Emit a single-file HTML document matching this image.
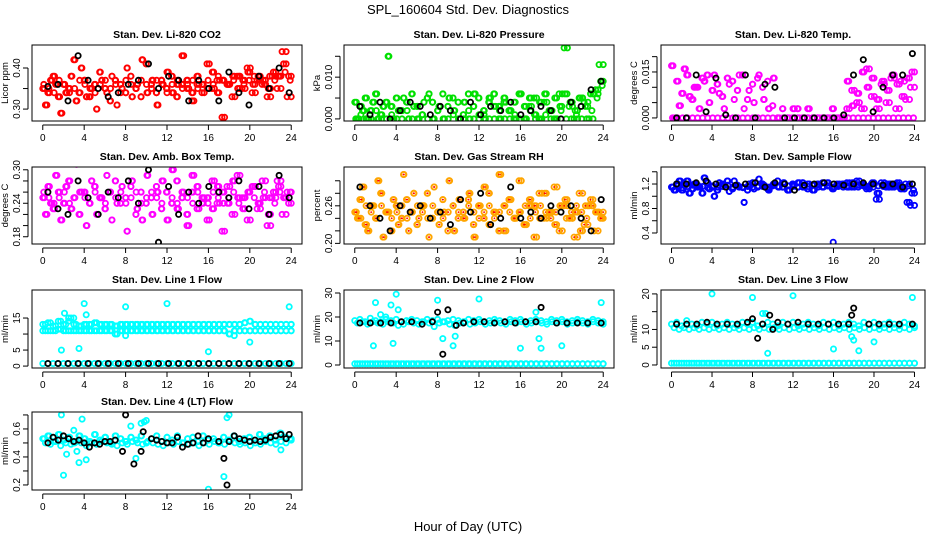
<!DOCTYPE html>
<html><head><meta charset="utf-8"><style>
body{margin:0;background:#fff}
svg{display:block;font-family:"Liberation Sans",Arial,sans-serif}
</style></head><body>
<svg id="chart" width="936" height="540" viewBox="0 0 936 540" xmlns="http://www.w3.org/2000/svg">
<rect width="936" height="540" fill="#fff"/>
<text x="468" y="14" text-anchor="middle" font-size="13">SPL_160604  Std. Dev. Diagnostics</text>
<text x="468" y="531" text-anchor="middle" font-size="13">Hour of Day (UTC)</text>
<g id="plots"></g>
</svg>
<script>
// ---- data ----
const xTicks=[0,4,8,12,16,20,24];
const co2A=[0.35,0.34,0.38,0.33,0.36,0.35,0.42,0.34,0.37,0.33,0.36,0.39,0.35,0.32,0.37,0.36,0.34,0.38,0.35,0.33,0.41,0.36,0.34,0.37,0.35,0.38,0.33,0.36,0.37,0.34,0.38,0.36,0.35,0.39,0.34,0.37,0.36,0.38,0.35,0.37,0.39,0.36,0.38,0.37,0.35,0.39,0.38,0.41,0.38];
const co2B=[0.31,0.37,0.36,0.29,0.34,0.38,0.32,0.40,0.33,0.35,0.30,0.37,0.34,0.38,0.31,0.35,0.40,0.33,0.36,0.42,0.34,0.37,0.31,0.36,0.39,0.34,0.36,0.43,0.35,0.32,0.36,0.34,0.41,0.35,0.37,0.28,0.36,0.33,0.38,0.35,0.40,0.34,0.37,0.36,0.33,0.38,0.35,0.44,0.33];
const co2C=[0.36,0.35,0.34,0.37,0.36,0.34,0.35,0.37,0.36,0.35,0.34,0.36,0.37,0.35,0.36,0.34,0.37,0.36,0.35,0.37,0.36,0.35,0.37,0.36,0.34,0.36,0.37,0.35,0.36,0.37,0.35,0.36,0.37,0.36,0.38,0.37,0.36,0.37,0.38,0.36,0.37,0.38,0.37,0.36,0.38,0.37,0.38,0.39,0.37];
const co2K=[0.355,0.36,0.32,0.43,0.37,0.35,0.33,0.34,0.36,0.37,0.41,0.35,0.38,0.37,0.32,0.37,0.35,0.32,0.39,0.34,0.31,0.38,0.35,0.40,0.34];
const prA=[0.004,0.003,0.005,0.002,0.006,0.001,0.004,0.003,0.005,0.002,0.004,0.006,0.003,0.001,0.005,0.004,0.002,0.006,0.003,0.005,0.004,0.001,0.006,0.003,0.005,0.002,0.004,0.006,0.003,0.005,0.002,0.004,0.006,0.003,0.005,0.001,0.004,0.006,0.002,0.005,0.003,0.006,0.004,0.002,0.005,0.003,0.006,0.007,0.009];
const prB=[0.000,0.002,0.000,0.004,0.000,0.003,0.015,0.000,0.002,0.005,0.000,0.003,0.000,0.004,0.006,0.000,0.003,0.000,0.005,0.002,0.000,0.004,0.000,0.006,0.001,0.000,0.005,0.003,0.000,0.004,0.002,0.000,0.006,0.000,0.003,0.005,0.000,0.004,0.002,0.000,0.006,0.017,0.003,0.000,0.005,0.004,0.000,0.006,0.013];
const prC=[0,0.001,0,0,0.002,0,0,0.001,0,0,0.002,0,0,0.001,0,0,0.002,0,0,0.001,0,0,0.002,0,0,0.001,0,0,0.002,0,0,0.001,0,0,0.002,0,0,0.001,0,0,0.002,0,0,0.001,0,0,0.002,0.005,0.008];
const prK=[0.003,0.001,0.004,0.000,0.002,0.004,0.003,0.001,0.003,0.002,0.000,0.004,0.001,0.003,0.002,0.004,0.001,0.002,0.003,0.002,0.000,0.004,0.003,0.007,0.009];
const tmA=[0.017,0.012,0.008,0.014,0.006,0.010,0.013,0.014,0.009,0.011,0.007,0.013,0.012,0.009,0.014,0.006,0.011,0.013,0.010,0.012,0.004,0,0.003,0,0,0.003,0,0,0,0,0,0,0.003,0,0,0.012,0.004,0.008,0.015,0.010,0.013,0.006,0.012,0.009,0.014,0.011,0.007,0.013,0.015];
const tmB=[0,0.004,0.016,0.007,0.010,0.003,0.012,0.005,0.014,0.008,0.003,0.011,0.006,0.014,0.003,0.009,0.005,0.014,0.006,0.003,0.013,0,0,0,0.003,0,0,0.003,0,0,0,0,0,0,0,0.003,0.009,0.005,0.003,0.016,0.007,0.003,0.011,0.005,0.013,0.003,0.012,0.006,0.010];
const tmC=[0,0,0,0,0,0,0,0,0,0,0,0,0,0,0,0,0,0,0,0,0,0,0,0,0,0,0,0,0,0,0,0,0,0,0,0,0,0,0,0,0,0,0,0,0,0,0,0,0];
const tmK=[0,0,0.014,0.002,0.013,0.001,0,0.014,0,0.011,0.010,0,0,0,0,0,0,0.001,0.014,0.019,0.002,0.010,0.014,0.014,0.021];
const abA=[0.25,0.27,0.23,0.26,0.24,0.28,0.25,0.22,0.26,0.24,0.27,0.25,0.23,0.26,0.28,0.24,0.25,0.27,0.22,0.26,0.24,0.25,0.27,0.23,0.26,0.24,0.28,0.25,0.22,0.26,0.27,0.24,0.25,0.23,0.27,0.26,0.24,0.28,0.25,0.23,0.26,0.27,0.24,0.25,0.22,0.26,0.27,0.25,0.24];
const abB=[0.22,0.24,0.29,0.21,0.27,0.23,0.31,0.26,0.20,0.28,0.22,0.25,0.29,0.21,0.24,0.27,0.19,0.28,0.23,0.21,0.29,0.22,0.26,0.28,0.21,0.30,0.23,0.26,0.20,0.29,0.23,0.25,0.21,0.28,0.24,0.19,0.27,0.22,0.29,0.25,0.21,0.27,0.23,0.28,0.20,0.25,0.28,0.22,0.26];
const abC=[0.26,0.25,0.24,0.25,0.26,0.24,0.25,0.26,0.25,0.24,0.26,0.25,0.24,0.26,0.25,0.26,0.24,0.25,0.26,0.24,0.25,0.26,0.25,0.24,0.26,0.25,0.24,0.26,0.25,0.24,0.26,0.25,0.24,0.26,0.25,0.24,0.25,0.26,0.24,0.25,0.26,0.25,0.24,0.26,0.25,0.24,0.26,0.25,0.26];
const abK=[0.26,0.23,0.22,0.28,0.25,0.22,0.26,0.25,0.28,0.24,0.30,0.17,0.27,0.22,0.26,0.24,0.27,0.26,0.25,0.28,0.23,0.27,0.22,0.29,0.25];
const rhA=[0.25,0.27,0.23,0.26,0.24,0.28,0.25,0.22,0.26,0.24,0.27,0.25,0.23,0.26,0.28,0.24,0.25,0.27,0.22,0.26,0.24,0.25,0.27,0.23,0.26,0.24,0.28,0.25,0.22,0.26,0.27,0.24,0.25,0.23,0.27,0.26,0.24,0.28,0.25,0.23,0.26,0.27,0.24,0.25,0.22,0.26,0.27,0.25,0.24];
const rhB=[0.24,0.29,0.22,0.26,0.30,0.21,0.25,0.27,0.23,0.31,0.22,0.28,0.24,0.26,0.21,0.29,0.23,0.25,0.30,0.22,0.27,0.24,0.28,0.21,0.26,0.29,0.23,0.25,0.31,0.22,0.27,0.24,0.30,0.23,0.26,0.21,0.28,0.24,0.25,0.29,0.22,0.26,0.24,0.21,0.28,0.23,0.26,0.22,0.25];
const rhC=[0.25,0.24,0.26,0.25,0.24,0.26,0.25,0.24,0.25,0.26,0.24,0.25,0.26,0.25,0.24,0.26,0.25,0.24,0.25,0.26,0.25,0.24,0.26,0.25,0.24,0.25,0.26,0.24,0.25,0.26,0.25,0.24,0.25,0.26,0.24,0.25,0.26,0.25,0.24,0.25,0.26,0.24,0.25,0.26,0.25,0.24,0.26,0.25,0.24];
const rhK=[0.29,0.26,0.24,0.22,0.26,0.25,0.26,0.24,0.25,0.23,0.27,0.25,0.28,0.23,0.24,0.29,0.24,0.25,0.24,0.26,0.25,0.26,0.24,0.22,0.27];
const sfA=[1.15,1.20,1.10,1.25,1.12,1.18,1.05,1.22,1.15,1.10,1.20,1.25,1.12,1.18,1.15,1.10,1.22,1.15,1.20,1.12,1.18,1.25,1.15,1.10,1.20,1.15,1.22,1.12,1.18,1.20,1.15,1.22,1.12,1.18,1.20,1.15,1.22,1.18,1.20,1.15,1.22,1.05,1.18,1.20,1.15,1.22,1.12,0.90,1.05];
const sfB=[1.10,1.25,1.18,1.05,1.20,1.15,1.30,1.12,1.00,1.22,1.18,1.08,1.25,1.15,0.90,1.20,1.12,1.28,1.18,1.10,1.20,1.15,1.22,1.10,1.18,1.22,1.15,1.20,1.10,1.18,1.22,1.17,1.15,1.20,1.18,1.22,1.15,1.25,1.18,1.12,1.20,0.95,1.22,1.15,1.20,1.18,1.12,1.20,0.85];
const sfC=[1.15,1.17,1.14,1.16,1.18,1.15,1.16,1.14,1.17,1.15,1.16,1.18,1.15,1.17,1.14,1.16,1.15,1.17,1.16,1.15,1.17,1.16,1.15,1.17,1.16,1.15,1.17,1.16,1.18,1.15,1.16,1.17,0.25,1.16,1.15,1.17,1.16,1.15,1.17,1.16,1.15,1.17,1.16,1.15,1.17,1.16,1.15,1.17,1.10];
const sfK=[1.20,1.20,1.22,1.25,1.20,1.15,1.18,1.20,1.22,1.15,1.22,1.20,1.10,1.18,1.20,1.22,1.20,1.18,1.20,1.22,1.20,1.18,1.20,1.15,1.20];
const l1A=[13,13.5,12.5,14,13,15,13,12.5,13,13,13.5,13,13,13,12.5,13,13,13,13,13,13,13,13,13,13,13,13,13,13,13,13,13,13,13,13,13,13,13,13,13.5,14,13,13,13,13,13,13,13,13];
const l1B=[11,11,11,11.5,11,11,11,11,11,11,11,11,11,11,10,11,11,11,11,11,11,11,11,11,11,11,11,11,11,11,11,11,11,11,11,11,10,11,11,11,11,11,11,11,11,11,11,11,11];
const l1C=[0.8,0.8,0.8,0.8,0.8,0.8,0.8,0.8,0.8,0.8,0.8,0.8,0.8,0.8,0.8,0.8,0.8,0.8,0.8,0.8,0.8,0.8,0.8,0.8,0.8,0.8,0.8,0.8,0.8,0.8,0.8,0.8,0.8,0.8,0.8,0.8,0.8,0.8,0.8,0.8,0.8,0.8,0.8,0.8,0.8,0.8,0.8,0.8,0.8];
const l1OutX=[1.8,2.1,2.5,3.0,3.5,4.0,4.2,8.0,12.0,16.0,20.0,23.8,8.0,18.5];
const l1OutY=[5,16.5,14,15,5.5,19.5,16,18.5,19.5,4.5,7.5,18.5,9.5,9.5];
const l1K=[0.8,0.8,0.8,0.8,0.8,0.8,0.8,0.8,0.8,0.8,0.8,0.8,0.8,0.8,0.8,0.8,0.8,0.8,0.8,0.8,0.8,0.8,0.8,0.8,0.8];
const l2A=[18.5,19,18,19.5,18.5,18,19,18.5,19,18,18.5,19,18.5,18,19,18.5,19,18,18.5,19,18.5,18,19,18.5,19,18,18.5,19,18.5,18,19,18.5,19,18,18.5,19,18.5,18,19,18.5,19,18,18.5,19,18.5,18,19,18.5,18];
const l2B=[17.5,18,17,18,17.5,17,18,17.5,16.5,17,18,17.5,17,18,17.5,16,17.5,18,17,16.5,17.5,18,17,17.5,18,17,17.5,18,17.5,17,18,17.5,18,17,17.5,18,17.5,17,18,17.5,18,17,17.5,18,17.5,17,18,17.5,17];
const l2C=[0.5,0.5,0.5,0.5,0.5,0.5,0.5,0.5,0.5,0.5,0.5,0.5,0.5,0.5,0.5,0.5,0.5,0.5,0.5,0.5,0.5,0.5,0.5,0.5,0.5,0.5,0.5,0.5,0.5,0.5,0.5,0.5,0.5,0.5,0.5,0.5,0.5,0.5,0.5,0.5,0.5,0.5,0.5,0.5,0.5,0.5,0.5,0.5,0.5];
const l2OutX=[1.8,2.0,2.5,3.0,3.5,3.7,4.0,4.2,8.0,8.5,9.5,9.7,12.0,16.0,17.5,17.8,18.0,20.0,23.8];
const l2OutY=[8,26,21,20,25,9,29.5,23,27,11,8,12,27.5,7,22,11,7,8,26];
const l2KX=[0.5,1.5,2.5,3.5,4.5,5.5,6.5,7.5,8.0,8.5,9.0,9.8,10.5,11.5,12.5,13.5,14.5,15.5,16.5,17.5,18.0,19.5,20.5,21.5,22.5,23.8];
const l2KY=[17.5,17.5,17.5,17.5,18,18,17,18,22,4.5,23,16.5,17.5,18,18,17.5,18,17.5,18,18,24,17.5,17.5,17.5,17.5,17.5];
const l3A=[11.5,12,11,12.5,11.5,11,12,11.5,12,11,11.5,12,11.5,11,12,11.5,12,11,11.5,12,11.5,11,12,11.5,12,11,11.5,12,11.5,11,12,11.5,12,11,11.5,12,11.5,11,12,11.5,12,11,11.5,12,11.5,11,12,11.5,11];
const l3B=[10.5,10,10.5,10,10.5,10,10.5,10,10.5,10,10.5,10,10.5,10,10.5,10,10.5,10,10.5,10,10.5,10,10.5,10,10.5,10,10.5,10,10.5,10,10.5,10,10.5,10,10.5,10,10.5,10,10.5,10,10.5,10,10.5,10,10.5,10,10.5,10,10.5];
const l3C=[0.5,0.5,0.5,0.5,0.5,0.5,0.5,0.5,0.5,0.5,0.5,0.5,0.5,0.5,0.5,0.5,0.5,0.5,0.5,0.5,0.5,0.5,0.5,0.5,0.5,0.5,0.5,0.5,0.5,0.5,0.5,0.5,0.5,0.5,0.5,0.5,0.5,0.5,0.5,0.5,0.5,0.5,0.5,0.5,0.5,0.5,0.5,0.5,0.5];
const l3OutX=[4.0,8.0,9.0,9.3,9.5,12.0,16.0,17.8,18.0,18.5,20.0,23.8];
const l3OutY=[20,19,14.5,14.5,3.3,19.5,4.5,8,7,4,6.5,19];
const l3KX=[0.5,1.5,2.5,3.5,4.5,5.5,6.5,7.5,8.0,8.5,9.0,9.7,10.0,10.5,11.5,12.5,13.5,14.5,15.5,16.5,17.5,17.8,18.0,19.5,20.5,21.5,22.5,23.8];
const l3KY=[11.5,11.5,11.5,12,11.5,11.5,11.5,12,13,7.5,11.5,14,10,12,11.5,12,11.5,11.5,11.5,11.5,11.5,14,16,11.5,11.5,11.5,11.5,11.5];
const l4A=[0.53,0.55,0.51,0.56,0.52,0.54,0.50,0.55,0.53,0.51,0.56,0.52,0.54,0.50,0.55,0.53,0.51,0.54,0.52,0.55,0.50,0.53,0.55,0.51,0.54,0.52,0.55,0.50,0.53,0.54,0.51,0.55,0.52,0.53,0.50,0.54,0.52,0.55,0.51,0.53,0.54,0.52,0.56,0.53,0.55,0.52,0.57,0.54,0.53];
const l4B=[0.50,0.49,0.51,0.48,0.50,0.49,0.51,0.50,0.48,0.50,0.49,0.51,0.50,0.49,0.48,0.50,0.49,0.51,0.50,0.49,0.51,0.50,0.49,0.48,0.50,0.49,0.51,0.50,0.49,0.50,0.48,0.50,0.49,0.51,0.50,0.49,0.51,0.50,0.49,0.50,0.48,0.50,0.49,0.51,0.50,0.49,0.51,0.50,0.52];
const l4OutX=[1.8,2.0,2.3,3.0,3.3,3.5,3.8,4.0,4.2,8.5,9.0,9.5,9.8,10.0,16.0,17.5,17.8,18.0,23.0];
const l4OutY=[0.70,0.27,0.42,0.59,0.44,0.36,0.67,0.74,0.38,0.62,0.39,0.64,0.65,0.66,0.17,0.26,0.68,0.70,0.45];
const l4KX=[0.5,1.0,1.5,2.0,2.5,3.0,3.5,4.0,4.5,5.0,5.5,6.0,6.5,7.0,7.7,8.0,8.8,9.5,9.7,10.5,11.0,11.5,12.0,12.5,13.0,13.5,14.0,14.5,15.0,15.5,16.0,17.0,17.5,17.8,18.0,18.5,19.0,19.5,20.0,20.5,21.0,21.5,22.0,22.5,23.0,23.5,23.8];
const l4KY=[0.50,0.54,0.52,0.55,0.53,0.51,0.52,0.50,0.47,0.50,0.49,0.51,0.51,0.52,0.44,0.70,0.35,0.44,0.58,0.53,0.52,0.51,0.50,0.50,0.54,0.47,0.49,0.50,0.55,0.50,0.53,0.51,0.39,0.20,0.51,0.55,0.53,0.52,0.51,0.52,0.51,0.52,0.54,0.55,0.56,0.53,0.56];

// ---- layout ----
const NS="http://www.w3.org/2000/svg";
const root=document.getElementById('plots');
const colX=[[32,302],[344,614],[661,925]];
const rowY=[[45,121],[167,244],[290,368],[412,490]];
function el(t,a,p){const e=document.createElementNS(NS,t);for(const k in a)e.setAttribute(k,a[k]);(p||root).appendChild(e);return e;}
function grid(arr,x0,x1){return arr.map((v,i)=>[x0+(x1-x0)*i/(arr.length-1),v]);}
function pairs(xs,ys){return xs.map((x,i)=>[x,ys[i]]);}
const C={red:'#ff0000',green:'#00e000',mag:'#ff00ff',orange:'#ffa500',blue:'#0000ff',cyan:'#00ffff',blk:'#000'};
function cloud(A,B,Cc,K,col){
  return [[grid(A,0,24),col],[grid(B,0.25,24),col],[grid(Cc,0.1,23.9),col],
          [grid(B,0.4,23.6),col],[grid(A,0.15,23.75),col],[grid(K,0.5,23.8),C.blk]];
}
const panels=[
 {name:'li820-co2',title:'Stan. Dev. Li-820 CO2',yl:'Licor ppm',c:0,r:0,ymin:0.271,ymax:0.456,yt:[0.30,0.35,0.40],ylab:['0.30','','0.40'],
  s:cloud(co2A,co2B,co2C,co2K,C.red)},
 {name:'li820-pressure',title:'Stan. Dev. Li-820 Pressure',yl:'kPa',c:1,r:0,ymin:-0.0005,ymax:0.0177,yt:[0,0.005,0.010,0.015],ylab:['0.000','','0.010',''],
  s:cloud(prA,prB,prC,prK,C.green)},
 {name:'li820-temp',title:'Stan. Dev. Li-820 Temp.',yl:'degrees C',c:2,r:0,ymin:-0.001,ymax:0.0238,yt:[0,0.005,0.010,0.015,0.020],ylab:['0.000','','','0.015',''],
  s:cloud(tmA,tmB,tmC,tmK,C.mag)},
 {name:'amb-box-temp',title:'Stan. Dev. Amb. Box Temp.',yl:'degrees C',c:0,r:1,ymin:0.167,ymax:0.305,yt:[0.18,0.20,0.22,0.24,0.26,0.28,0.30],ylab:['0.18','','','0.24','','','0.30'],
  s:cloud(abA,abB,abC,abK,C.mag)},
 {name:'gas-stream-rh',title:'Stan. Dev. Gas Stream RH',yl:'percent',c:1,r:1,ymin:0.199,ymax:0.322,yt:[0.20,0.22,0.24,0.26,0.28,0.30],ylab:['0.20','','','0.26','',''],
  s:cloud(rhA,rhB,rhC,rhK,C.orange),dot:'#ff0000'},
 {name:'sample-flow',title:'Stan. Dev. Sample Flow',yl:'ml/min',c:2,r:1,ymin:0.22,ymax:1.478,yt:[0.4,0.6,0.8,1.0,1.2,1.4],ylab:['0.4','','0.8','','1.2',''],
  s:cloud(sfA,sfB,sfC,sfK,C.blue)},
 {name:'line1-flow',title:'Stan. Dev. Line 1 Flow',yl:'ml/min',c:0,r:2,ymin:-0.6,ymax:23.75,yt:[0,5,10,15],ylab:['0','5','','15'],
  s:[[grid(l1A,0,24),C.cyan],[grid(l1A,0.25,24),C.cyan],[grid(l1B,0,24),C.cyan],[grid(l1B,0.25,24),C.cyan],[grid(l1C,0,24),C.cyan],[pairs(l1OutX,l1OutY),C.cyan],[grid(l1K,0.5,23.8),C.blk]]},
 {name:'line2-flow',title:'Stan. Dev. Line 2 Flow',yl:'ml/min',c:1,r:2,ymin:-1.25,ymax:31.25,yt:[0,10,20,30],ylab:['0','10','20','30'],
  s:[[grid(l2A,0,24),C.cyan],[grid(l2B,0.25,24),C.cyan],[grid(l2C,0,24),C.cyan],[grid(l2C,0.25,24),C.cyan],[pairs(l2OutX,l2OutY),C.cyan],[pairs(l2KX,l2KY),C.blk]]},
 {name:'line3-flow',title:'Stan. Dev. Line 3 Flow',yl:'ml/min',c:2,r:2,ymin:-0.85,ymax:21.1,yt:[0,5,10,15,20],ylab:['0','5','10','','20'],
  s:[[grid(l3A,0,24),C.cyan],[grid(l3B,0.25,24),C.cyan],[grid(l3C,0,24),C.cyan],[grid(l3C,0.25,24),C.cyan],[pairs(l3OutX,l3OutY),C.cyan],[pairs(l3KX,l3KY),C.blk]]},
 {name:'line4-flow',title:'Stan. Dev. Line 4 (LT) Flow',yl:'ml/min',c:0,r:3,ymin:0.164,ymax:0.721,yt:[0.2,0.3,0.4,0.5,0.6,0.7],ylab:['0.2','','0.4','','0.6',''],
  s:[[grid(l4A,0,24),C.cyan],[grid(l4B,0.25,24),C.cyan],[grid(l4A,0.12,23.9),C.cyan],[pairs(l4OutX,l4OutY),C.cyan],[pairs(l4KX,l4KY),C.blk]]}
];
panels.forEach(p=>{
  const [L,R]=colX[p.c],[T,B]=rowY[p.r];
  const sx=v=>L+(v+1.04)/(26.08)*(R-L);
  const sy=v=>B-(v-p.ymin)/(p.ymax-p.ymin)*(B-T);
  const g=el('g',{});
  
  
  const t=el('text',{x:(L+R)/2,y:T-7,'text-anchor':'middle','font-size':'10.5','font-weight':'bold'},g);
  t.textContent=p.title;
  
  
  const cp='cp'+p.name;
  const cl=el('clipPath',{id:cp},g);el('rect',{x:L,y:T,width:R-L,height:B-T},cl);
  const pts=el('g',{'clip-path':'url(#'+cp+')'},g);
  
  
  p.s.forEach(([arr,col])=>{
    arr.forEach(([x,y])=>{
      const c=el('circle',{cx:sx(x).toFixed(1),cy:sy(y).toFixed(1),r:2.6,fill:'none',stroke:col,'stroke-width':1.8},pts);
      
      
      if(p.dot&&col!==C.blk)el('circle',{cx:sx(x).toFixed(1),cy:sy(y).toFixed(1),r:0.9,fill:p.dot},pts);
    });
  });
  const box=el('rect',{x:L,y:T,width:R-L,height:B-T,fill:'none',stroke:'#000','stroke-width':1},g);
  
  
  el('line',{x1:sx(0),x2:sx(24),y1:B+4,y2:B+4,stroke:'#000'},g);
  xTicks.forEach(v=>{
    el('line',{x1:sx(v),x2:sx(v),y1:B+4,y2:B+9,stroke:'#000'},g);
    const lt=el('text',{x:sx(v),y:B+20,'text-anchor':'middle','font-size':'10'},g);
    lt.textContent=v;
    
    
  });
  el('line',{x1:L-4,x2:L-4,y1:sy(p.yt[0]),y2:sy(p.yt[p.yt.length-1]),stroke:'#000'},g);
  p.yt.forEach((v,i)=>{
    const y=sy(v);
    el('line',{x1:L-9,x2:L-4,y1:y,y2:y,stroke:'#000'},g);
    if(p.ylab[i]){
      const lt=el('text',{x:L-12,y:y,'text-anchor':'middle','font-size':'10',transform:`rotate(-90 ${L-12} ${y})`},g);
      lt.textContent=p.ylab[i];
      
      
    }
  });
  const yy=(T+B)/2;
  const yl=el('text',{x:L-24,y:yy,'text-anchor':'middle','font-size':'9.5',transform:`rotate(-90 ${L-24} ${yy})`},g);
  yl.textContent=p.yl;
  
  
});
</script>
</body></html>
